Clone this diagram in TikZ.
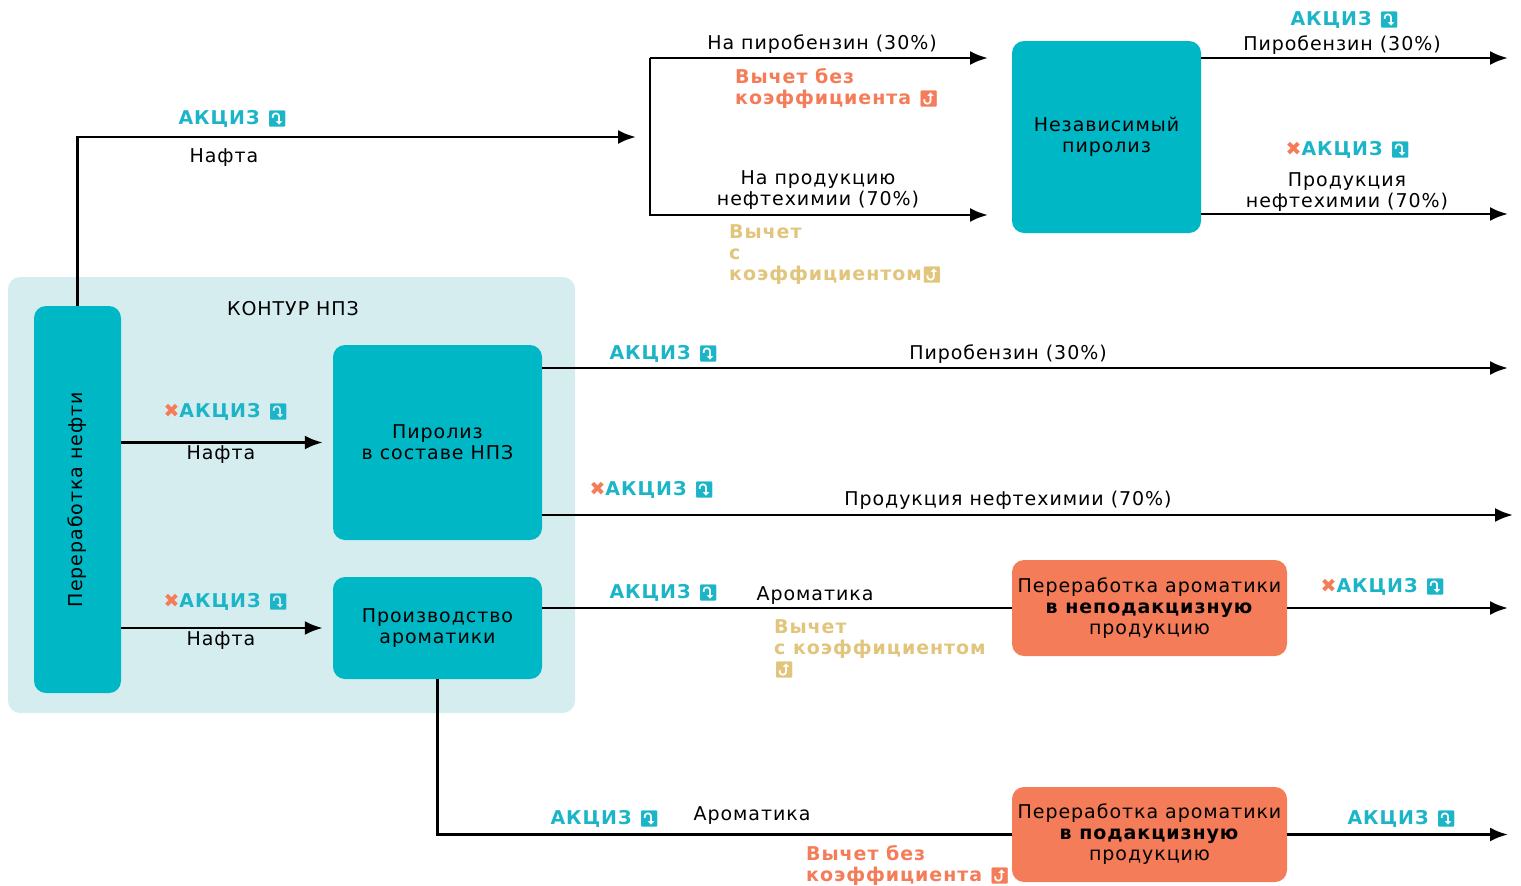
\documentclass[tikz,border=0pt]{standalone}
\usepackage{fontspec}
\setmainfont{DejaVu Sans}[LetterSpace=5]
\newfontfamily\emojifont{Noto Emoji}
\usetikzlibrary{arrows.meta}

\definecolor{tealbox}{HTML}{00B7C6}
\definecolor{akciz}{HTML}{1CB5C8}
\definecolor{coral}{HTML}{F47C58}
\definecolor{sand}{HTML}{E1C57D}
\definecolor{contour}{HTML}{D6EDF0}

\newcommand{\dnarr}{{\emojifont\fontsize{16}{21}\selectfont ⤵}}
\newcommand{\uparr}{{\emojifont\fontsize{16}{21}\selectfont ⤴}}
\newcommand{\akc}{\textcolor{akciz}{\bfseries АКЦИЗ \dnarr}}
\newcommand{\noakc}{\textcolor{coral}{✖}\textcolor{akciz}{\bfseries АКЦИЗ \dnarr}}
\newcommand{\basefont}{\fontsize{19}{21}\selectfont}

\tikzset{
  box/.style={fill=tealbox, rounded corners=12pt, align=center, inner sep=0pt},
  hotbox/.style={box, fill=coral},
  flow/.style={line width=2.8pt, -{Latex[length=18pt,width=14pt]}},
  bare/.style={line width=2.8pt},
  txt/.style={inner sep=0pt, align=center},
  note/.style={inner sep=0pt, align=left, font=\basefont\bfseries, anchor=west},
}

\begin{document}
\begin{tikzpicture}[x=1pt, y=-1pt, font=\basefont]
    \useasboundingbox (0,0) rectangle (1521,886);
    \fill [contour, rounded corners=12pt] (8,277) rectangle (575,713);
    \node [txt] (contourlabel) at (293,309) {КОНТУР НПЗ};

    % boxes
    \node [box, minimum width=87pt, minimum height=387pt] (refine) at (77.5,499.5) {};
    \node [rotate=90, txt] (refinelabel) at (refine.center) {Переработка нефти};
    \node [box, minimum width=209pt, minimum height=195pt] (pyro) at (437.5,442.5) {Пиролиз\\в составе НПЗ};
    \node [box, minimum width=209pt, minimum height=102pt] (arom) at (437.5,628) {Производство\\ароматики};
    \node [box, minimum width=189pt, minimum height=192pt] (indep) at (1106.5,137) {Независимый\\пиролиз};
    \node [hotbox, minimum width=275pt, minimum height=96pt] (nonexc) at (1149.5,608) {Переработка ароматики\\\textbf{в неподакцизную}\\продукцию};
    \node [hotbox, minimum width=275pt, minimum height=95pt] (exc) at (1149.5,834.5) {Переработка ароматики\\\textbf{в подакцизную}\\продукцию};

    % free ends
    \coordinate (naftaend) at (636,137);
    \coordinate (splittop) at (650,58);
    \coordinate (pbend) at (988,58);
    \coordinate (petend) at (988,215);
    \coordinate (indeppb) at (1508,58);
    \coordinate (indeppet) at (1508,214);
    \coordinate (pyropb) at (1508,368);
    \coordinate (pyropet) at (1513,515);
    \coordinate (nonexcout) at (1508,608);
    \coordinate (excout) at (1508,834.5);

    % connectors
    \draw [flow] (refine.north) |- (naftaend);
    \draw [flow] (splittop) -- (pbend);
    \draw [flow] (splittop) |- (petend);
    \draw [flow] (indep.east |- indeppb) -- (indeppb);
    \draw [flow] (indep.east |- indeppet) -- (indeppet);
    \draw [flow, shorten >=10pt] (refine.east |- pyro.west) -- (pyro.west);
    \draw [flow, shorten >=10pt] (refine.east |- arom.west) -- (arom.west);
    \draw [flow] (pyro.east |- pyropb) -- (pyropb);
    \draw [flow] (pyro.east |- pyropet) -- (pyropet);
    \draw [bare] (arom.east |- nonexc.west) -- (nonexc.west);
    \draw [flow] (nonexc.east) -- (nonexcout);
    \draw [bare] (arom.south) |- (exc.west);
    \draw [flow] (exc.east) -- (excout);

    % labels
    \node [txt] (a1) at (233,119) {\akc};
    \node [txt] (n1) at (224,158) {Нафта};
    \node [txt] (l1) at (822,44) {На пиробензин (30\%)};
    \node [note, text=coral] (d1) at (735,88) {Вычет без\\коэффициента \uparr};
    \node [txt] (l2) at (818,190) {На продукцию\\нефтехимии (70\%)};
    \node [note, text=sand] (d2) at (729,255) {Вычет\\с\\коэффициентом\uparr};
    \node [txt] (a2) at (1345,20) {\akc};
    \node [txt] (l3) at (1342,45) {Пиробензин (30\%)};
    \node [txt] (a3) at (1348,150) {\noakc};
    \node [txt] (l4) at (1347,192) {Продукция\\нефтехимии (70\%)};
    \node [txt] (a4) at (226,412) {\noakc};
    \node [txt] (n2) at (221,455) {Нафта};
    \node [txt] (a5) at (226,602) {\noakc};
    \node [txt] (n3) at (221,641) {Нафта};
    \node [txt] (a6) at (664,354) {\akc};
    \node [txt] (l5) at (1008,354) {Пиробензин (30\%)};
    \node [txt] (a7) at (652,490) {\noakc};
    \node [txt] (l6) at (1008,500) {Продукция нефтехимии (70\%)};
    \node [txt] (a8) at (664,593) {\akc};
    \node [txt] (r1) at (815,596) {Ароматика};
    \node [note, text=sand] (d3) at (774,649) {Вычет\\с коэффициентом\\\uparr};
    \node [txt] (a9) at (1383,587) {\noakc};
    \node [txt] (a10) at (605,819) {\akc};
    \node [txt] (r2) at (752,816) {Ароматика};
    \node [note, text=coral] (d4) at (806,865) {Вычет без\\коэффициента \uparr};
    \node [txt] (a11) at (1402,819) {\akc};
\end{tikzpicture}
\end{document}
